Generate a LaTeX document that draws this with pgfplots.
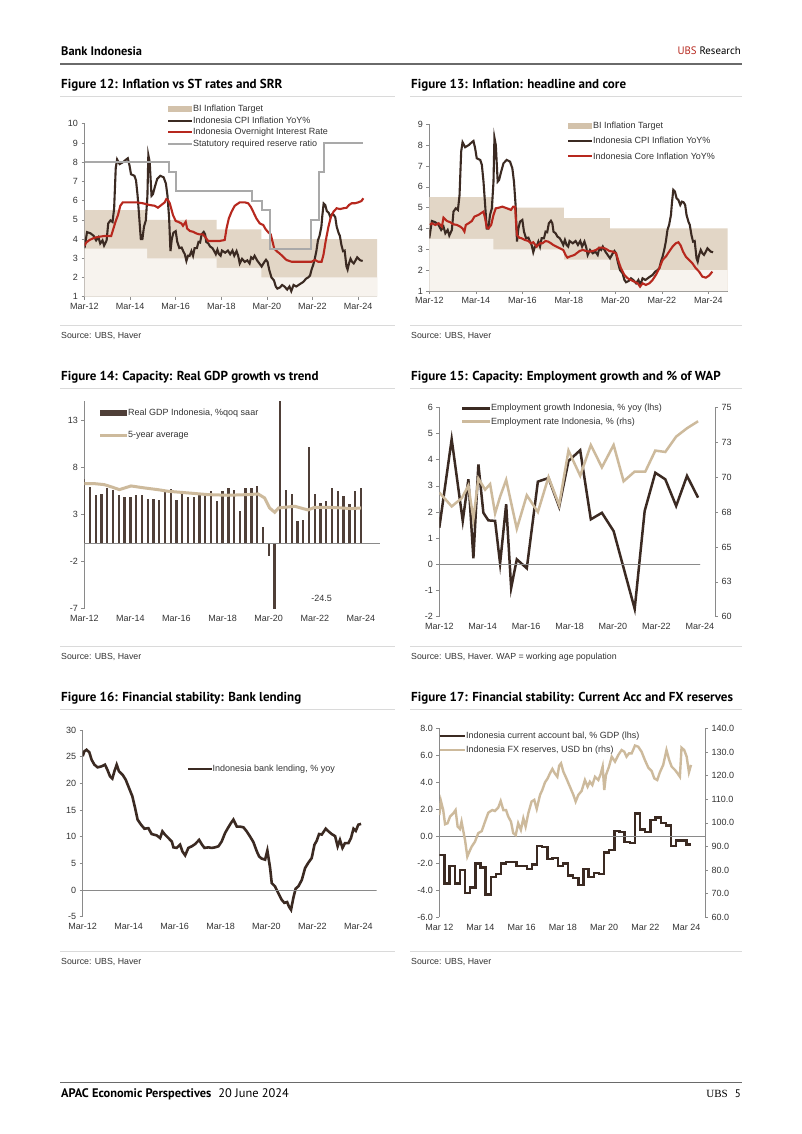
\documentclass[border=0pt]{standalone}
\usepackage{fontspec}
\setmainfont{Liberation Sans}
\newfontfamily\ptsans{PT Sans}
\usepackage{pgfplots}
\pgfplotsset{compat=1.18}
\usepackage{pgfplotstable}

\definecolor{cpi}{HTML}{3B2A22}
\definecolor{ubsred}{HTML}{B7281E}
\definecolor{srr}{HTML}{A9A9A9}
\definecolor{tanband}{HTML}{E2D6C6}
\definecolor{tanleg}{HTML}{D3C2AB}
\definecolor{lightband}{HTML}{F7F3EE}
\definecolor{tanline}{HTML}{CDBA9C}
\definecolor{axisgray}{HTML}{8A8A8A}
\definecolor{txt}{HTML}{333333}
\definecolor{rule}{HTML}{DADADA}
\definecolor{hdr}{HTML}{6A6A6A}

\pgfplotstableread{
x y
2012.17 3.53
2012.28 4.36
2012.43 4.30
2012.57 4.17
2012.68 3.93
2012.78 4.09
2012.86 3.77
2012.96 3.93
2013.03 3.66
2013.14 3.93
2013.21 4.81
2013.31 4.97
2013.40 4.89
2013.47 5.60
2013.54 7.69
2013.60 8.14
2013.71 7.90
2013.86 8.00
2014.00 8.14
2014.07 8.20
2014.14 7.85
2014.21 7.37
2014.36 7.29
2014.43 7.05
2014.50 6.25
2014.57 5.13
2014.64 4.00
2014.71 4.00
2014.78 4.65
2014.86 4.97
2014.93 6.25
2014.97 8.36
2015.03 8.00
2015.11 6.25
2015.17 6.33
2015.26 6.73
2015.36 7.13
2015.50 7.29
2015.64 7.21
2015.74 6.89
2015.81 6.25
2015.88 5.13
2015.94 3.37
2016.00 4.00
2016.07 4.33
2016.17 4.41
2016.24 3.85
2016.33 3.53
2016.43 3.56
2016.50 3.37
2016.57 3.21
2016.64 2.86
2016.71 3.13
2016.78 3.13
2016.86 3.37
2016.93 3.13
2017.00 3.53
2017.10 3.53
2017.17 3.85
2017.24 3.82
2017.31 4.25
2017.40 4.37
2017.46 4.25
2017.51 3.85
2017.60 3.77
2017.68 3.61
2017.78 3.53
2017.86 3.37
2017.93 3.21
2018.00 3.45
2018.07 3.21
2018.14 3.13
2018.20 3.40
2018.34 3.29
2018.46 3.40
2018.56 3.21
2018.66 3.40
2018.74 3.13
2018.84 3.37
2018.91 3.13
2018.98 2.73
2019.08 2.97
2019.20 2.81
2019.31 2.89
2019.41 2.73
2019.48 3.05
2019.56 2.97
2019.63 3.13
2019.74 2.89
2019.84 2.73
2019.94 2.57
2020.06 2.81
2020.13 2.92
2020.20 2.81
2020.27 2.41
2020.37 2.00
2020.48 1.85
2020.56 1.53
2020.63 1.42
2020.74 1.48
2020.84 1.61
2020.94 1.53
2021.06 1.37
2021.16 1.53
2021.24 1.29
2021.34 1.61
2021.46 1.53
2021.56 1.61
2021.66 1.69
2021.77 1.77
2021.88 1.93
2021.98 2.00
2022.06 2.09
2022.13 2.41
2022.20 2.65
2022.27 2.97
2022.34 3.37
2022.41 3.93
2022.48 4.17
2022.56 4.65
2022.60 5.20
2022.66 5.85
2022.73 5.77
2022.80 5.45
2022.88 5.37
2022.96 5.13
2023.03 5.29
2023.10 5.26
2023.17 5.13
2023.23 4.65
2023.31 4.33
2023.37 4.17
2023.44 3.69
2023.51 3.37
2023.58 3.40
2023.66 2.57
2023.71 2.41
2023.77 2.73
2023.84 2.97
2023.91 2.81
2023.98 2.73
2024.06 2.89
2024.13 3.05
2024.20 2.97
2024.27 2.89
2024.37 2.86
}\cpi

\pgfplotstableread{
x y
2012.20 4.17
2012.28 4.25
2012.43 4.17
2012.57 4.25
2012.71 4.09
2012.78 4.52
2012.93 4.36
2013.07 4.30
2013.21 4.20
2013.36 4.17
2013.50 4.09
2013.60 4.00
2013.68 3.85
2013.74 4.17
2013.86 4.25
2014.00 4.36
2014.11 4.57
2014.28 4.65
2014.43 4.76
2014.50 4.81
2014.57 4.49
2014.64 4.04
2014.71 4.00
2014.83 4.17
2014.93 4.65
2015.03 4.97
2015.17 5.00
2015.31 5.05
2015.43 5.00
2015.57 4.94
2015.68 4.89
2015.78 5.05
2015.86 5.05
2015.90 4.25
2015.94 3.69
2016.03 3.56
2016.14 3.53
2016.28 3.45
2016.43 3.40
2016.54 3.29
2016.64 3.34
2016.78 3.13
2016.93 3.29
2017.03 3.29
2017.17 3.40
2017.28 3.37
2017.40 3.29
2017.50 3.21
2017.64 3.13
2017.78 3.05
2017.93 2.97
2018.03 2.73
2018.11 2.60
2018.20 2.65
2018.41 2.73
2018.63 2.92
2018.77 2.97
2018.91 2.92
2019.06 2.89
2019.20 2.92
2019.34 2.97
2019.48 3.08
2019.63 3.08
2019.77 3.02
2019.91 2.92
2020.06 2.89
2020.20 2.81
2020.31 2.41
2020.41 2.09
2020.56 1.77
2020.70 1.61
2020.84 1.53
2020.98 1.45
2021.13 1.37
2021.23 1.21
2021.34 1.37
2021.48 1.29
2021.63 1.37
2021.77 1.53
2021.91 1.77
2022.06 2.09
2022.20 2.49
2022.34 2.65
2022.48 2.89
2022.63 3.13
2022.77 3.29
2022.88 3.34
2022.98 3.18
2023.08 2.89
2023.20 2.65
2023.34 2.49
2023.48 2.33
2023.63 2.09
2023.77 1.93
2023.91 1.69
2024.06 1.64
2024.20 1.74
2024.34 1.93
}\core

\pgfplotstableread{
x y
2012.17 3.65
2012.24 3.81
2012.39 3.95
2012.61 4.07
2012.83 4.12
2013.05 4.16
2013.34 4.16
2013.42 4.47
2013.53 4.90
2013.64 5.25
2013.74 5.73
2013.85 5.91
2014.15 5.91
2014.44 5.91
2014.73 5.86
2015.03 5.77
2015.25 5.73
2015.39 5.63
2015.54 5.77
2015.69 5.91
2015.76 6.08
2015.83 6.03
2015.91 5.86
2015.98 5.56
2016.05 5.25
2016.17 4.94
2016.27 4.90
2016.42 4.81
2016.49 4.69
2016.61 4.90
2016.67 4.55
2016.79 4.42
2016.93 4.38
2017.08 4.29
2017.22 4.24
2017.37 4.24
2017.49 4.07
2017.59 3.90
2017.81 3.90
2018.10 3.90
2018.32 3.95
2018.40 4.55
2018.50 5.07
2018.62 5.42
2018.76 5.73
2018.98 5.91
2019.20 5.91
2019.35 5.86
2019.46 5.68
2019.57 5.42
2019.71 5.07
2019.86 4.81
2020.01 4.73
2020.11 4.52
2020.23 4.35
2020.34 4.24
2020.40 3.95
2020.49 3.51
2020.63 3.34
2020.73 3.25
2020.88 3.08
2021.03 2.91
2021.25 2.82
2021.54 2.82
2021.83 2.82
2022.13 2.82
2022.28 2.91
2022.42 2.82
2022.57 2.82
2022.65 3.17
2022.75 3.90
2022.87 4.64
2022.98 5.16
2023.09 5.42
2023.23 5.60
2023.38 5.56
2023.52 5.60
2023.67 5.63
2023.77 5.77
2023.89 5.86
2024.03 5.86
2024.18 5.91
2024.32 5.98
2024.40 6.12
}\onrate

\pgfplotsset{
  base/.style={
    scale only axis, anchor=south west,
    axis x line*=bottom, axis y line*=left,
    axis line style={axisgray, line width=0.6pt},
    tick style={axisgray, line width=0.6pt},
    tick align=outside, major tick length=3pt,
    tick label style={font=\fontsize{9}{10}\selectfont, text=txt},
    /pgf/number format/assume math mode=true,
    scaled ticks=false, enlargelimits=false,
    xmin=2012.17,
    xtick={2012.17,2014.17,2016.17,2018.17,2020.17,2022.17,2024.17},
    xticklabels={Mar-12,Mar-14,Mar-16,Mar-18,Mar-20,Mar-22,Mar-24},
  },
  nobottom/.style={
    x axis line style={draw=none},
    major x tick style={draw=none},
  },
}

\newcommand{\zeroline}[1]{%
  \addplot[axisgray, line width=0.6pt, forget plot] coordinates {(2012.17,0) (#1,0)};
  \addplot[axisgray, line width=0.6pt, ycomb, forget plot] coordinates {(2014.17,-0.0001) (2016.17,-0.0001) (2018.17,-0.0001) (2020.17,-0.0001) (2022.17,-0.0001) (2024.17,-0.0001)};
}
\newcommand{\ttlf}{\ptsans\bfseries\fontsize{13}{15}\selectfont}
\newcommand{\lgf}{\fontsize{9}{10}\selectfont}
\newcommand{\srcf}{\fontsize{8.8}{10}\selectfont}

\begin{document}
\begin{tikzpicture}
\useasboundingbox (0,0) rectangle (802pt,-1134pt);
\fill[white] (0,0) rectangle (802pt,-1134pt);

% ---------- header / footer ----------
\node[anchor=west, inner sep=0pt, font=\ptsans\bfseries\fontsize{12.4}{14}\selectfont] at (61pt,-51pt) {Bank Indonesia};
\node[anchor=east, inner sep=0pt, font=\ptsans\fontsize{10.8}{13}\selectfont] at (741pt,-51pt) {\textcolor{ubsred}{UBS} Research};
\draw[line width=1.3pt, hdr] (60pt,-64pt) -- (742pt,-64pt);

\draw[line width=1pt, hdr] (60pt,-1082pt) -- (742pt,-1082pt);
\node[anchor=west, inner sep=0pt, font=\ptsans\fontsize{12.4}{14}\selectfont] at (61pt,-1094pt) {\textbf{APAC Economic Perspectives}\hspace{7pt}20 June 2024};
\node[anchor=east, inner sep=0pt, font=\fontsize{11}{13}\selectfont] at (741pt,-1094pt) {{\fontspec{Liberation Serif}UBS}\hspace{7pt}{\ptsans 5}};

% ---------- titles, rules, sources ----------
\node[anchor=west, inner sep=0pt, font=\ttlf] at (61pt,-85pt) {Figure 12: Inflation vs ST rates and SRR};
\node[anchor=west, inner sep=0pt, font=\ttlf] at (411pt,-85pt) {Figure 13: Inflation: headline and core};
\node[anchor=west, inner sep=0pt, font=\ttlf] at (61pt,-377pt) {Figure 14: Capacity: Real GDP growth vs trend};
\node[anchor=west, inner sep=0pt, font=\ttlf] at (411pt,-377pt) {Figure 15: Capacity: Employment growth and \% of WAP};
\node[anchor=west, inner sep=0pt, font=\ttlf] at (61pt,-698pt) {Figure 16: Financial stability: Bank lending};
\node[anchor=west, inner sep=0pt, font=\ttlf] at (411pt,-698pt) {Figure 17: Financial stability: Current Acc and FX reserves};
\foreach \yy in {96,325,388,646,709,951}{
  \draw[rule, line width=0.6pt] (60pt,-\yy pt) -- (395pt,-\yy pt);
  \draw[rule, line width=0.6pt] (410pt,-\yy pt) -- (742pt,-\yy pt);
}
\node[anchor=west, inner sep=0pt, font=\srcf, text=txt] at (61pt,-336pt) {Source: UBS, Haver};
\node[anchor=west, inner sep=0pt, font=\srcf, text=txt] at (411pt,-336pt) {Source: UBS, Haver};
\node[anchor=west, inner sep=0pt, font=\srcf, text=txt] at (61pt,-657pt) {Source: UBS, Haver};
\node[anchor=west, inner sep=0pt, font=\srcf, text=txt] at (411pt,-657pt) {Source: UBS, Haver. WAP = working age population};
\node[anchor=west, inner sep=0pt, font=\srcf, text=txt] at (61pt,-962pt) {Source: UBS, Haver};
\node[anchor=west, inner sep=0pt, font=\srcf, text=txt] at (411pt,-962pt) {Source: UBS, Haver};

% ================= Figure 12 =================
\begin{axis}[base, at={(84.5pt,-296.7pt)}, width=292.5pt, height=173pt,
  xmax=2025.0, ymin=1, ymax=10, ytick={1,2,...,10}]
\addplot[fill=tanband, draw=none] coordinates {(2012.17,1) (2012.17,5.5) (2014.92,5.5) (2014.92,5.0) (2017.96,5.0) (2017.96,4.5) (2019.93,4.5) (2019.93,4.0) (2025.0,4.0) (2025.0,1)} -- cycle;
\addplot[fill=lightband, draw=none] coordinates {(2012.17,1) (2012.17,3.5) (2014.92,3.5) (2014.92,3.0) (2017.96,3.0) (2017.96,2.5) (2019.93,2.5) (2019.93,2.0) (2025.0,2.0) (2025.0,1)} -- cycle;
\addplot[cpi, line width=2.1pt] table {\cpi};
\addplot[ubsred, line width=2.1pt] table {\onrate};
\addplot[srr, line width=2.1pt] coordinates {(2012.17,8.0) (2015.88,8.0) (2015.88,7.5) (2016.17,7.5) (2016.17,6.5) (2019.50,6.5) (2019.50,6.0) (2019.95,6.0) (2019.95,5.5) (2020.30,5.5) (2020.30,3.5) (2022.11,3.5) (2022.11,5.0) (2022.45,5.0) (2022.45,7.5) (2022.68,7.5) (2022.68,9.0) (2024.40,9.0)};
\end{axis}
\fill[tanleg] (168pt,-106pt) rectangle (192pt,-112pt);
\draw[cpi, line width=2.1pt] (168pt,-120.7pt) -- (192pt,-120.7pt);
\draw[ubsred, line width=2.1pt] (168pt,-132.3pt) -- (192pt,-132.3pt);
\draw[srr, line width=2.1pt] (168pt,-143.7pt) -- (192pt,-143.7pt);
\node[anchor=west, inner sep=0pt, font=\lgf, text=txt] at (193pt,-109pt) {BI Inflation Target};
\node[anchor=west, inner sep=0pt, font=\lgf, text=txt] at (193pt,-120.7pt) {Indonesia CPI Inflation YoY\%};
\node[anchor=west, inner sep=0pt, font=\lgf, text=txt] at (193pt,-132.3pt) {Indonesia Overnight Interest Rate};
\node[anchor=west, inner sep=0pt, font=\lgf, text=txt] at (193pt,-143.7pt) {Statutory required reserve ratio};

% ================= Figure 13 =================
\begin{axis}[base, at={(429.3pt,-291pt)}, width=298.4pt, height=166.7pt,
  xmax=2025.0, ymin=1, ymax=9, ytick={1,2,...,9}]
\addplot[fill=tanband, draw=none] coordinates {(2012.17,1) (2012.17,5.5) (2014.92,5.5) (2014.92,5.0) (2017.96,5.0) (2017.96,4.5) (2019.93,4.5) (2019.93,4.0) (2025.0,4.0) (2025.0,1)} -- cycle;
\addplot[fill=lightband, draw=none] coordinates {(2012.17,1) (2012.17,3.5) (2014.92,3.5) (2014.92,3.0) (2017.96,3.0) (2017.96,2.5) (2019.93,2.5) (2019.93,2.0) (2025.0,2.0) (2025.0,1)} -- cycle;
\addplot[cpi, line width=2.1pt] table {\cpi};
\addplot[ubsred, line width=2.1pt] table {\core};
\end{axis}
\fill[tanleg] (568pt,-122.7pt) rectangle (592pt,-128.7pt);
\draw[cpi, line width=2.1pt] (568pt,-140.7pt) -- (592pt,-140.7pt);
\draw[ubsred, line width=2.1pt] (568pt,-156pt) -- (592pt,-156pt);
\node[anchor=west, inner sep=0pt, font=\lgf, text=txt] at (593pt,-125.7pt) {BI Inflation Target};
\node[anchor=west, inner sep=0pt, font=\lgf, text=txt] at (593pt,-140.7pt) {Indonesia CPI Inflation YoY\%};
\node[anchor=west, inner sep=0pt, font=\lgf, text=txt] at (593pt,-156pt) {Indonesia Core Inflation YoY\%};

% ================= Figure 14 =================
\begin{axis}[base, nobottom, at={(84.3pt,-608.7pt)}, width=295.7pt, height=207.7pt,
  xmax=2025.0, ymin=-7, ymax=15.1, ytick={-7,-2,3,8,13}]
\addplot[ycomb, cpi!90, line width=2.3pt] coordinates {
(2012.17,6.84) (2012.42,6.0) (2012.67,5.1) (2012.92,5.2) (2013.17,5.85) (2013.42,5.6) (2013.67,5.1) (2013.92,4.9)
(2014.17,4.9) (2014.42,5.1) (2014.67,5.1) (2014.92,4.7) (2015.17,4.7) (2015.42,4.6) (2015.67,5.5) (2015.92,5.7)
(2016.17,4.6) (2016.42,5.3) (2016.67,4.9) (2016.92,4.9) (2017.17,5.1) (2017.42,5.0) (2017.67,5.5) (2017.92,4.5)
(2018.17,5.5) (2018.42,5.8) (2018.67,5.6) (2018.92,3.4) (2019.17,5.8) (2019.42,5.8) (2019.67,6.1) (2019.92,1.7)
(2020.17,-1.35) (2020.42,-24.5) (2020.67,18.0) (2020.92,5.6) (2021.17,5.2) (2021.42,2.3) (2021.67,2.4) (2021.92,10.2)
(2022.17,5.25) (2022.42,4.3) (2022.67,4.5) (2022.92,5.85) (2023.17,5.5) (2023.42,5.0) (2023.67,4.15) (2023.92,5.5)
(2024.17,5.85)};
\addplot[tanline, line width=3pt] coordinates {
(2012.17,6.31) (2012.60,6.31) (2013.04,6.2) (2013.40,5.92) (2013.69,5.67) (2014.20,6.06) (2014.78,5.85) (2015.36,5.67)
(2015.79,5.5) (2016.66,5.32) (2017.53,5.14) (2018.40,5.07) (2019.27,5.14) (2019.71,5.21) (2019.99,4.79) (2020.21,3.72)
(2020.43,3.26) (2020.60,3.72) (2020.87,3.79) (2021.30,3.9) (2021.66,3.65) (2021.88,3.51) (2022.17,3.79) (2022.75,3.79)
(2023.33,3.72) (2023.76,3.65) (2024.18,3.72)};
\zeroline{2025.0}
\end{axis}
\node[font=\lgf, text=txt] at (321.7pt,-598.3pt) {-24.5};
\fill[cpi!90] (100pt,-410pt) rectangle (127pt,-415.5pt);
\draw[tanline, line width=3pt] (100pt,-435pt) -- (127pt,-435pt);
\node[anchor=west, inner sep=0pt, font=\lgf, text=txt] at (128pt,-412.7pt) {Real GDP Indonesia, \%qoq saar};
\node[anchor=west, inner sep=0pt, font=\lgf, text=txt] at (128pt,-435pt) {5-year average};

% ================= Figure 15 =================
\begin{axis}[base, nobottom, at={(439.3pt,-616.7pt)}, width=275.7pt, height=209.4pt,
  xmax=2024.87, ymin=-2, ymax=6, ytick={-2,-1,...,6}]
\addplot[cpi, line width=2.5pt] coordinates {
(2012.17,1.4) (2012.74,4.78) (2013.25,1.66) (2013.51,3.25) (2013.74,0.23) (2013.97,3.82) (2014.20,1.97) (2014.43,1.68)
(2014.74,1.66) (2014.97,0.03) (2015.25,2.3) (2015.48,-0.9) (2015.74,0.19) (2016.20,-0.15) (2016.71,3.16) (2017.20,3.3)
(2017.69,2.2) (2018.12,3.95) (2018.66,4.36) (2019.15,1.72) (2019.66,1.97) (2020.20,1.27) (2021.17,-1.7) (2021.63,2.04)
(2022.12,3.5) (2022.58,3.25) (2023.08,2.23) (2023.58,3.38) (2024.09,2.55)};
\zeroline{2024.2}
\end{axis}
\begin{axis}[base, at={(439.3pt,-616.7pt)}, width=275.7pt, height=209.4pt,
  axis y line*=right, axis x line=none,
  xmax=2024.87, ymin=60, ymax=75, ytick={60,62.5,65,67.5,70,72.5,75}, yticklabels={60,63,65,68,70,73,75}]
\addplot[tanline, line width=2.5pt] coordinates {
(2012.17,68.9) (2012.74,67.9) (2013.21,68.5) (2013.51,69.4) (2013.74,67.0) (2013.97,69.9) (2014.28,69.1) (2014.51,69.5)
(2014.74,67.4) (2014.97,68.6) (2015.25,69.8) (2015.74,66.3) (2016.20,68.7) (2016.71,67.5) (2017.20,70.0) (2017.69,68.0)
(2018.12,71.9) (2018.66,70.1) (2019.15,72.3) (2019.66,70.7) (2020.20,72.3) (2020.66,69.7) (2021.17,70.4) (2021.66,70.4)
(2022.12,71.9) (2022.58,71.8) (2023.08,72.9) (2023.58,73.5) (2024.09,74.0)};
\end{axis}
\draw[cpi, line width=2.5pt] (462pt,-408.3pt) -- (490pt,-408.3pt);
\draw[tanline, line width=2.5pt] (462pt,-421.7pt) -- (490pt,-421.7pt);
\node[anchor=west, inner sep=0pt, font=\lgf, text=txt] at (491pt,-408.3pt) {Employment growth Indonesia, \% yoy (lhs)};
\node[anchor=west, inner sep=0pt, font=\lgf, text=txt] at (491pt,-421.7pt) {Employment rate Indonesia, \% (rhs)};

% ================= Figure 16 =================
\begin{axis}[base, nobottom, at={(82.7pt,-916.7pt)}, width=294pt, height=186.7pt,
  xmax=2024.97, ymin=-5, ymax=30, ytick={-5,0,...,30}]
\addplot[cpi, line width=2.6pt] coordinates {
(2012.17,25.1) (2012.24,26.0) (2012.34,26.3) (2012.46,25.8) (2012.56,24.4) (2012.68,23.5) (2012.82,23.0) (2013.00,23.2)
(2013.14,23.5) (2013.24,22.6) (2013.36,21.3) (2013.46,20.9) (2013.55,22.25) (2013.65,23.5) (2013.75,22.25) (2013.91,21.6)
(2014.04,20.7) (2014.19,19.1) (2014.33,17.6) (2014.45,15.4) (2014.56,13.2) (2014.71,12.25) (2014.86,11.5) (2015.03,11.6)
(2015.17,10.5) (2015.39,10.25) (2015.54,9.75) (2015.64,11.0) (2015.75,10.4) (2015.90,9.75) (2016.05,9.1) (2016.12,8.0)
(2016.26,7.9) (2016.41,8.5) (2016.51,7.25) (2016.63,6.5) (2016.77,7.9) (2016.92,8.2) (2017.06,8.6) (2017.24,9.4)
(2017.35,8.6) (2017.47,7.9) (2017.64,8.0) (2017.79,7.9) (2017.93,8.0) (2018.08,8.2) (2018.22,9.1) (2018.37,10.7)
(2018.51,11.75) (2018.63,12.6) (2018.73,13.2) (2018.88,11.9) (2019.02,11.9) (2019.17,11.75) (2019.31,11.0) (2019.46,10.0)
(2019.60,9.0) (2019.75,7.25) (2019.85,6.3) (2019.96,5.9) (2020.11,5.7) (2020.21,7.4) (2020.33,4.1) (2020.40,1.3)
(2020.54,0.7) (2020.69,-0.6) (2020.83,-1.8) (2020.95,-2.4) (2021.07,-2.25) (2021.15,-3.1) (2021.24,-3.7) (2021.34,-1.5)
(2021.44,0.25) (2021.56,0.7) (2021.71,1.9) (2021.85,4.1) (2021.99,5.1) (2022.14,6.0) (2022.26,8.5) (2022.36,9.25)
(2022.46,10.5) (2022.58,10.4) (2022.75,11.5) (2022.87,11.0) (2023.01,10.5) (2023.16,10.1) (2023.27,8.2) (2023.37,9.4)
(2023.48,7.9) (2023.59,8.8) (2023.74,8.8) (2023.85,9.75) (2023.96,11.5) (2024.06,11.1) (2024.17,12.25) (2024.29,12.4)};
\zeroline{2024.97}
\end{axis}
\draw[cpi, line width=2.6pt] (188pt,-769pt) -- (212pt,-769pt);
\node[anchor=west, inner sep=0pt, font=\lgf, text=txt] at (212.5pt,-769pt) {Indonesia bank lending, \% yoy};

% ================= Figure 17 =================
\begin{axis}[base, nobottom, at={(439.3pt,-917.3pt)}, width=265.7pt, height=189pt,
  xmax=2025.07, ymin=-6, ymax=8, ytick={-6,-4,...,8},
  xticklabels={Mar 12,Mar 14,Mar 16,Mar 18,Mar 20,Mar 22,Mar 24},
  yticklabel style={/pgf/number format/.cd, fixed, fixed zerofill, precision=1}]
\addplot[const plot, cpi, line width=2.4pt] coordinates {
(2012.17,-1.4) (2012.42,-3.5) (2012.67,-2.2) (2012.92,-3.5) (2013.17,-2.5) (2013.42,-4.2) (2013.67,-3.8) (2013.92,-2.0)
(2014.17,-2.3) (2014.42,-4.3) (2014.67,-3.0) (2014.92,-2.8) (2015.17,-2.0) (2015.42,-1.9) (2015.67,-1.9) (2015.92,-2.2)
(2016.17,-2.2) (2016.42,-2.4) (2016.67,-2.1) (2016.92,-0.7) (2017.17,-0.8) (2017.42,-1.7) (2017.67,-1.6) (2017.92,-2.2)
(2018.17,-2.0) (2018.42,-2.9) (2018.67,-3.1) (2018.92,-3.6) (2019.17,-2.4) (2019.42,-3.0) (2019.67,-2.7) (2019.92,-2.8)
(2020.17,-1.2) (2020.42,-1.0) (2020.67,0.4) (2020.92,0.3) (2021.17,-0.4) (2021.42,-0.5) (2021.67,1.7) (2021.92,0.5)
(2022.17,0.3) (2022.42,1.2) (2022.67,1.4) (2022.92,1.0) (2023.17,0.8) (2023.42,-0.7) (2023.67,-0.3) (2023.92,-0.3)
(2024.17,-0.6) (2024.40,-0.6)};
\zeroline{2025.07}
\end{axis}
\begin{axis}[base, at={(439.3pt,-917.3pt)}, width=265.7pt, height=189pt,
  axis y line*=right, axis x line=none,
  xmax=2025.07, ymin=60, ymax=140, ytick={60,70,...,140},
  yticklabel style={/pgf/number format/.cd, fixed, fixed zerofill, precision=1}]
\addplot[tanline, line width=2.4pt] coordinates {
(2012.17,103.3) (2012.25,109.2) (2012.36,105.4) (2012.45,99.4) (2012.57,99.8) (2012.69,102.6) (2012.85,104.0) (2012.96,105.4)
(2013.06,98.4) (2013.17,97.4) (2013.25,100.5) (2013.34,96.3) (2013.42,92.7) (2013.53,85.7) (2013.63,87.8) (2013.74,89.9)
(2013.90,92.0) (2014.06,95.6) (2014.23,96.5) (2014.39,100.5) (2014.55,104.3) (2014.74,105.4) (2014.87,105.0) (2015.03,106.4)
(2015.15,109.2) (2015.28,105.4) (2015.41,105.4) (2015.52,102.6) (2015.65,100.5) (2015.76,95.6) (2015.88,94.8) (2016.00,99.8)
(2016.13,97.0) (2016.25,101.9) (2016.36,98.4) (2016.49,104.0) (2016.65,109.0) (2016.78,109.7) (2016.90,105.9) (2017.06,111.8)
(2017.17,113.9) (2017.30,117.1) (2017.43,118.8) (2017.54,120.9) (2017.66,122.8) (2017.78,120.9) (2017.90,119.5) (2017.99,124.2)
(2018.08,125.2) (2018.19,121.7) (2018.35,118.6) (2018.51,115.3) (2018.68,111.8) (2018.79,109.0) (2018.92,111.8) (2019.08,113.5)
(2019.24,118.1) (2019.37,115.3) (2019.48,117.4) (2019.60,116.0) (2019.73,119.5) (2019.89,118.1) (2020.00,120.5) (2020.10,123.8)
(2020.18,113.9) (2020.26,120.2) (2020.41,123.8) (2020.54,128.0) (2020.70,125.9) (2020.86,128.7) (2021.02,130.8) (2021.15,130.1)
(2021.26,128.0) (2021.38,129.4) (2021.51,129.4) (2021.67,132.7) (2021.83,132.2) (2021.99,130.1) (2022.15,126.6) (2022.32,123.3)
(2022.48,121.9) (2022.61,118.8) (2022.75,118.1) (2022.88,121.4) (2023.04,124.5) (2023.20,130.8) (2023.33,126.6) (2023.45,123.8)
(2023.61,122.4) (2023.74,120.9) (2023.85,119.5) (2023.93,131.8) (2024.06,130.8) (2024.18,128.0) (2024.29,121.4) (2024.39,124.5)};
\end{axis}
\draw[cpi, line width=2.4pt] (439.5pt,-736pt) -- (465pt,-736pt);
\draw[tanline, line width=2.4pt] (439.5pt,-750pt) -- (465pt,-750pt);
\node[anchor=west, inner sep=0pt, font=\lgf, text=txt] at (466pt,-736pt) {Indonesia current account bal, \% GDP (lhs)};
\node[anchor=west, inner sep=0pt, font=\lgf, text=txt] at (466pt,-750pt) {Indonesia FX reserves, USD bn (rhs)};

\end{tikzpicture}
\end{document}
